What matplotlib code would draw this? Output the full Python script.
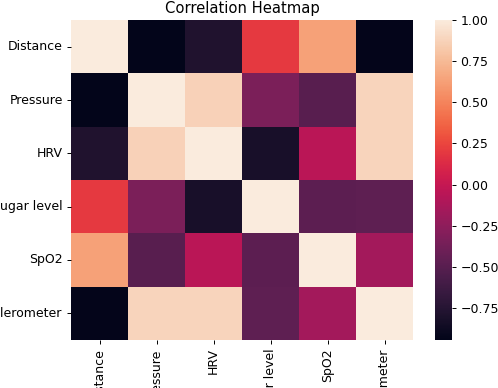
import numpy as np
import matplotlib
matplotlib.use("Agg")
import matplotlib.pyplot as plt
import seaborn as sns

labels = ["Distance", "Pressure", "HRV", "Sugar level", "SpO2", "Accelerometer"]

row_distance = [1.00, -0.945, -0.78, 0.20, 0.63, -0.93]
row_pressure = [-0.945, 1.00, 0.87, -0.33, -0.50, 0.88]
row_hrv = [-0.78, 0.87, 1.00, -0.82, -0.05, 0.88]
row_sugar = [0.20, -0.33, -0.82, 1.00, -0.48, -0.47]
row_spo2 = [0.63, -0.50, -0.05, -0.48, 1.00, -0.16]
row_accel = [-0.93, 0.88, 0.88, -0.47, -0.16, 1.00]

corr = np.array([row_distance, row_pressure, row_hrv, row_sugar, row_spo2, row_accel])

W, H = 498, 388
fig = plt.figure(figsize=(W / 100, H / 100), dpi=100)
ax = fig.add_axes([71 / W, (H - 340) / H, 342 / W, 320 / H])
cax = fig.add_axes([435 / W, (H - 340) / H, 17 / W, 320 / H])

sns.heatmap(corr, ax=ax, cbar_ax=cax, cmap="rocket",
            xticklabels=labels, yticklabels=labels)

ax.set_title("Correlation Heatmap", fontsize=10.6, pad=5)
ax.tick_params(axis="both", labelsize=9, length=3, width=0.7, pad=3)
plt.setp(ax.get_xticklabels(), rotation=90)
plt.setp(ax.get_yticklabels(), rotation=0)
cax.tick_params(labelsize=9, length=3, width=0.7, pad=3)
cax.set_yticks([-0.75, -0.5, -0.25, 0.0, 0.25, 0.5, 0.75, 1.0])

fig.savefig("out.png", dpi=100)
